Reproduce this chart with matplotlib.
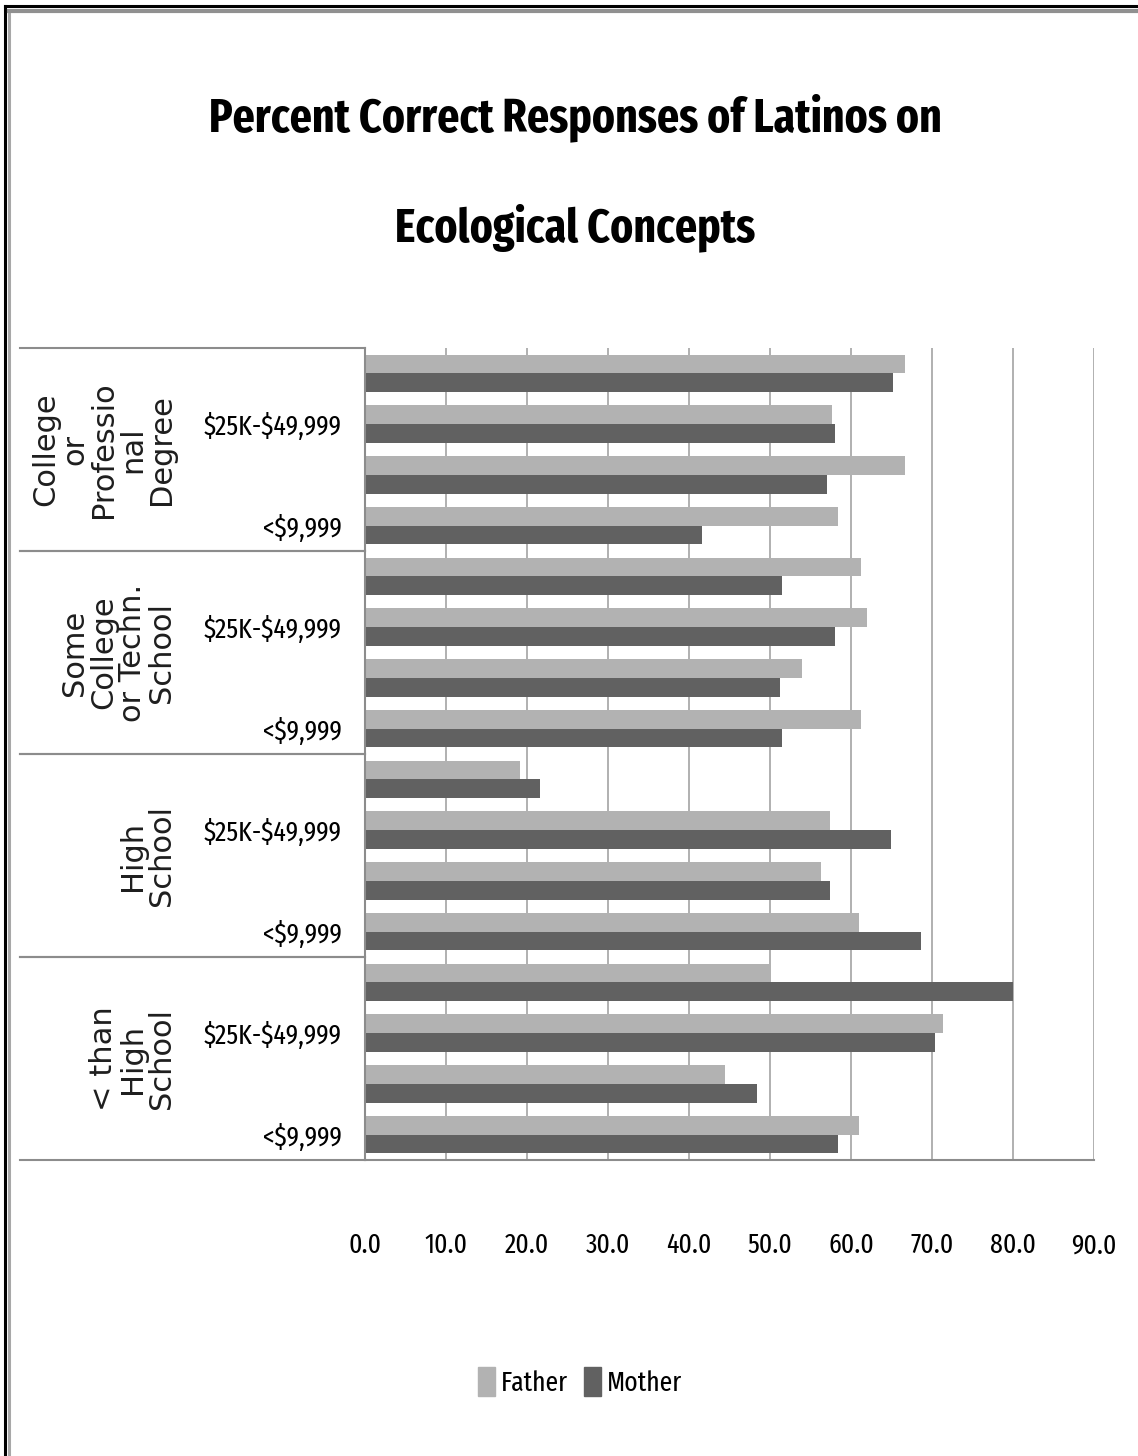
import matplotlib
matplotlib.use("Agg")
import matplotlib.pyplot as plt
import matplotlib.transforms as mtransforms
import numpy as np
from matplotlib.lines import Line2D
from matplotlib.patches import Patch

plt.rcParams["text.parse_math"] = False

NARROW = ["Fira Sans Extra Condensed", "DejaVu Sans"]

# categories, bottom to top
education = ["< than\nHigh\nSchool", "High\nSchool",
             "Some\nCollege\nor Techn.\nSchool",
             "College\nor\nProfessio\nnal\nDegree"]
income = ["<$9,999", "$10K-$24,999", "$25K-$49,999", "$50K+"]

# percent correct, same order as education x income (bottom to top)
father = [61.0, 44.4, 71.4, 49.9,
          61.0, 56.3, 57.4, 19.1,
          61.2, 54.0, 62.0, 61.2,
          58.4, 66.7, 57.7, 66.7]
mother = [58.4, 48.4, 70.4, 80.0,
          68.6, 57.4, 64.9, 21.6,
          51.5, 51.2, 58.0, 51.5,
          41.6, 57.0, 58.0, 65.2]

xticks = [0, 10, 20, 30, 40, 50, 60, 70, 80, 90]

W, H = 1138, 1456
fig = plt.figure(figsize=(W / 100, H / 100), dpi=100)
ax = fig.add_axes([365 / W, 1 - 1160 / H, (1094 - 365) / W, (1160 - 348) / H])

n = len(education) * len(income)
y = np.arange(n)
bh = 0.37
ax.barh(y + bh / 2, father, height=bh, color="#b2b2b2", label="Father", zorder=2)
ax.barh(y - bh / 2, mother, height=bh, color="#616161", label="Mother", zorder=2)

ax.set_xlim(0, 90)
ax.set_ylim(-0.5, n - 0.5)
ax.set_xticks(xticks)
ax.set_xticklabels([f"{v:.1f}" for v in xticks], family=NARROW, fontsize=20)
ax.tick_params(axis="x", length=0, pad=52)

# only every other income label fits
ylabels = [income[i % len(income)] if i % 2 == 0 else "" for i in range(n)]
ax.set_yticks(y)
ax.set_yticklabels(ylabels, family=NARROW, fontsize=20)
ax.tick_params(axis="y", length=0, pad=17)

ax.xaxis.grid(True, color="#a3a3a3", lw=1.2, zorder=0)
ax.set_axisbelow(True)
for s in ["top", "right"]:
    ax.spines[s].set_visible(False)
for s in ["left", "bottom"]:
    ax.spines[s].set_color("#8c8c8c")
    ax.spines[s].set_linewidth(1.5)

# group labels and separators in the category axis
trans = mtransforms.blended_transform_factory(fig.transFigure, ax.transData)
for k, name in enumerate(education):
    lo = k * len(income) - 0.5
    hi = lo + len(income)
    ax.text(176 / W, (lo + hi) / 2, name, transform=trans, rotation=90,
            ha="right", va="center", multialignment="center",
            fontsize=22, linespacing=1.0, color="#1e1e1e",
            family="DejaVu Sans")
    for yy in (lo, hi):
        ax.add_line(Line2D([20 / W, 365 / W], [yy, yy], transform=trans,
                           color="#8c8c8c", lw=1.5, clip_on=False))

fig.text(575 / W, 1 - 118 / H, "Percent Correct Responses of Latinos on",
         ha="center", va="center", fontsize=34, fontweight="bold", family=NARROW)
fig.text(575 / W, 1 - 228 / H, "Ecological Concepts",
         ha="center", va="center", fontsize=34, fontweight="bold", family=NARROW)

handles = [Patch(color="#b2b2b2", label="Father"),
           Patch(color="#616161", label="Mother")]
fig.legend(handles=handles, loc="center", bbox_to_anchor=(580 / W, 1 - 1382 / H),
           ncol=2, frameon=False, prop={"family": NARROW, "size": 20},
           handlelength=0.6, handleheight=1.2, handletextpad=0.2,
           columnspacing=0.6)

# frame around the chart area
fig.add_artist(Line2D([5 / W, 5 / W], [0, 1 - 6 / H], color="black", lw=2.2))
fig.add_artist(Line2D([5 / W, 1], [1 - 6 / H, 1 - 6 / H], color="black", lw=2.2))
fig.add_artist(Line2D([9 / W, 9 / W], [0, 1 - 11 / H], color="#a8a8a8", lw=2.2))
fig.add_artist(Line2D([9 / W, 1], [1 - 11 / H, 1 - 11 / H], color="#909090", lw=3))

fig.savefig("out.png", dpi=100)
plt.close(fig)
